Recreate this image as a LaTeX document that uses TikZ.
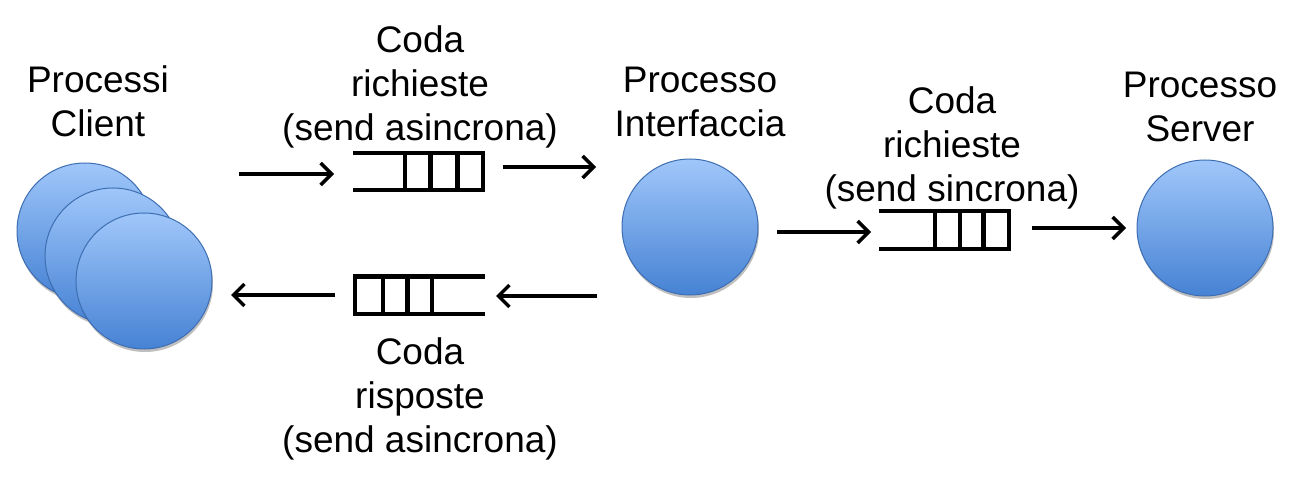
\documentclass[tikz,border=0pt]{standalone}
\usepackage{fontspec}
\setmainfont{Liberation Sans}
\usetikzlibrary{arrows.meta,shadows,calc}
\definecolor{ctop}{RGB}{160,199,250}
\definecolor{cbot}{RGB}{70,130,212}
\definecolor{cline}{RGB}{62,110,178}
\tikzset{
  proc/.style={circle,minimum size=136pt,inner sep=0pt,draw=cline,line width=1pt,
    top color=ctop,bottom color=cbot,
    drop shadow={shadow xshift=1pt,shadow yshift=-3pt,opacity=0.25,fill=black}},
  lbl/.style={align=center,anchor=base,inner sep=0pt,font=\fontsize{37}{44}\selectfont},
  qbox/.style={minimum width=128pt,minimum height=37pt,inner sep=0pt,draw=none},
  qline/.style={line width=4.4pt,line cap=rect,line join=miter},
  arr/.style={line width=3.4pt,-{Straight Barb[length=11pt,width=22pt,line width=3.4pt]}},
}
\begin{document}
\begin{tikzpicture}[x=1pt,y=-1pt]
\useasboundingbox (0,0) rectangle (1305,486);
% client circles
\node[proc] (cl3) at (85,231) {};
\node[proc] (cl2) at (113,256) {};
\node[proc] (cl1) at (144,281) {};
\node[proc] (iface) at (690,227) {};
\node[proc] (server) at (1205,228) {};
% queues
\node[qbox] (q1) at (419,171.5) {};
\node[qbox] (q2) at (419,295) {};
\node[qbox] (q3) at (945,230) {};
\draw[qline] (q1.north west) -- (q1.north east) -- (q1.south east) -- (q1.south west);
\foreach \f in {0.39,0.59,0.8}
  \draw[qline] ($(q1.north west)!\f!(q1.north east)$) -- ($(q1.south west)!\f!(q1.south east)$);
\draw[qline] (q2.north east) -- (q2.north west) -- (q2.south west) -- (q2.south east);
\foreach \f in {0.22,0.41,0.6}
  \draw[qline] ($(q2.north west)!\f!(q2.north east)$) -- ($(q2.south west)!\f!(q2.south east)$);
\draw[qline] (q3.north west) -- (q3.north east) -- (q3.south east) -- (q3.south west);
\foreach \f in {0.42,0.615,0.8}
  \draw[qline] ($(q3.north west)!\f!(q3.north east)$) -- ($(q3.south west)!\f!(q3.south east)$);
% arrow end points
\coordinate (a1s) at (239,174);
\coordinate (a1e) at (334,174);
\coordinate (a2s) at (503,167);
\coordinate (a2e) at (596,167);
\coordinate (a3s) at (335,295);
\coordinate (a3e) at (231,295);
\coordinate (a4s) at (597,296);
\coordinate (a4e) at (496,296);
\coordinate (a5s) at (777,232);
\coordinate (a5e) at (871,232);
\coordinate (a6s) at (1032,228);
\coordinate (a6e) at (1126,228);
\draw[arr] (a1s) -- (a1e);
\draw[arr] (a2s) -- (a2e);
\draw[arr] (a3s) -- (a3e);
\draw[arr] (a4s) -- (a4e);
\draw[arr] (a5s) -- (a5e);
\draw[arr] (a6s) -- (a6e);
% labels (anchor = baseline of last line)
\node[lbl] (clientlbl) at (98,137) {Processi\\Client};
\node[lbl] (q1lbl) at (420,141) {Coda\\richieste\\(send asincrona)};
\node[lbl] (ifacelbl) at (700,137) {Processo\\Interfaccia};
\node[lbl] (q3lbl) at (952,202) {Coda\\richieste\\(send sincrona)};
\node[lbl] (serverlbl) at (1200,142) {Processo\\Server};
\node[lbl] (q2lbl) at (420,452) {Coda\\risposte\\(send asincrona)};
\end{tikzpicture}
\end{document}
